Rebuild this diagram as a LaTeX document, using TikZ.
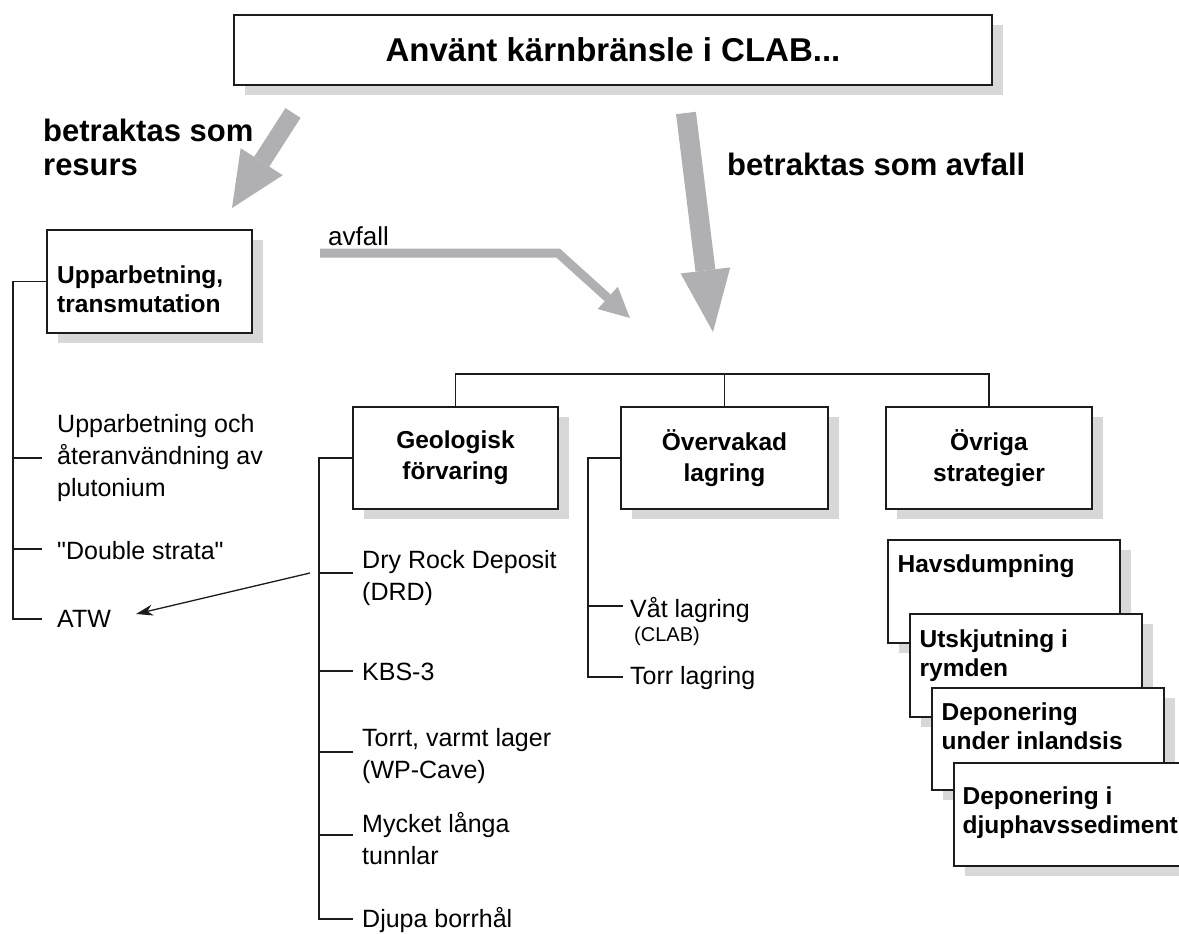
\documentclass[tikz,border=0pt]{standalone}
\usepackage{fontspec}
\setmainfont{Liberation Sans}
\usetikzlibrary{calc,shadows,arrows.meta}
\definecolor{ink}{RGB}{28,28,28}
\definecolor{arrowgray}{RGB}{176,176,179}
\definecolor{shadowgray}{RGB}{216,216,216}
\newcommand\headtri[4]{%
  \coordinate (#2-b) at ($(#2)!#4!(#1)$);
  \fill[fathead] ($(#2-b)!#3!90:(#2)$) -- (#2) -- ($(#2-b)!#3!-90:(#2)$) -- cycle;
}
\tikzset{
  box/.style={draw=ink, line width=1.2pt, fill=white, inner sep=0pt,
    drop shadow={shadow xshift=11pt, shadow yshift=-10pt, fill=shadowgray, opacity=1}},
  boxtxt/.style={font=\fontsize{24.5}{31}\selectfont\bfseries, align=center},
  stacktxt/.style={font=\fontsize{24.5}{28.5}\selectfont\bfseries, align=left, inner sep=0pt, anchor=base west},
  item/.style={font=\fontsize{25}{32}\selectfont, align=left, anchor=west, inner ysep=0pt},
  tree/.style={draw=ink, line width=1.1pt},
  biglbl/.style={font=\fontsize{31}{33}\selectfont\bfseries, align=left, inner sep=0pt, anchor=base west},
  fatshaft/.style={draw=arrowgray, line join=miter, line cap=butt},
  fathead/.style={fill=arrowgray},
}
\begin{document}
\begin{tikzpicture}[x=1pt,y=-1pt]
\useasboundingbox (0,0) rectangle (1179,934);
\clip (0,0) rectangle (1179,934);
\fill[white] (0,0) rectangle (1179,934);

% title
\node[box, minimum width=758pt, minimum height=70pt, font=\fontsize{33}{40}\selectfont\bfseries] (clab) at (613,50) {Använt kärnbränsle i CLAB...};

% labels
\node[biglbl] (resurs) at (43,175) {betraktas som\\resurs};
\node[biglbl] (avfallbig) at (727,175) {betraktas som avfall};
\node[font=\fontsize{26}{30}\selectfont, inner sep=0pt, anchor=base west] (avfallsmall) at (328,245) {avfall};

% fat gray arrows
\coordinate (ra1) at (293,113); \coordinate (ra2) at (232,208);
\coordinate (ma1) at (686,113); \coordinate (ma2) at (713,332);
\coordinate (sa1) at (320,253); \coordinate (sa2) at (558,253); \coordinate (sa3) at (630,318);
\headtri{ra1}{ra2}{25pt}{55pt}
\draw[fatshaft, line width=18pt] (ra1) -- (ra2-b);
\headtri{ma1}{ma2}{25pt}{62pt}
\draw[fatshaft, line width=20pt] (ma1) -- (ma2-b);
\headtri{sa2}{sa3}{15pt}{30pt}
\draw[fatshaft, line width=9pt] (sa1) -- (sa2) -- (sa3-b);

% left branch
\node[box, minimum width=205pt, minimum height=103pt] (upb) at (149.5,281.5) {};
\node[font=\fontsize{24.5}{29}\selectfont\bfseries, align=left, inner sep=0pt, anchor=west] (upbt) at (57,289) {Upparbetning,\\transmutation};
\coordinate (l1) at (13,458); \coordinate (l2) at (13,549); \coordinate (l3) at (13,619);
\node[item, inner xsep=15pt] (it1) at (42,458) {Upparbetning och\\återanvändning av\\plutonium};
\node[item, inner xsep=15pt] (ds) at (42,551) {\textquotedbl Double strata\textquotedbl};
\node[item, inner xsep=15pt] (atw) at (42,619) {ATW};
\draw[tree] (upb.west) -| (l3) -- (atw.west);
\draw[tree] (l1) -- (it1.west);
\draw[tree] (l2) -- (l2 -| ds.west);

% three main boxes
\node[box, minimum width=205pt, minimum height=102pt, boxtxt] (geo) at (455.5,458) {Geologisk\\förvaring};
\node[box, minimum width=207pt, minimum height=102pt, boxtxt] (ovk) at (724.5,458) {Övervakad\\lagring};
\node[box, minimum width=206pt, minimum height=102pt, boxtxt] (ovr) at (989,458) {Övriga\\strategier};
\coordinate (bar) at (724.5,374);
\draw[tree] (geo.north) |- (bar) -| (ovr.north);
\draw[tree] (bar) -- (ovk.north);

% geological items
\coordinate (g1) at (319,573); \coordinate (g2) at (319,671); \coordinate (g3) at (319,752);
\coordinate (g4) at (319,835); \coordinate (g5) at (319,919);
\node[item, inner xsep=9pt] (drd) at (353,578) {Dry Rock Deposit\\(DRD)};
\node[item, inner xsep=9pt] (kbs) at (353,672) {KBS-3};
\node[item, inner xsep=9pt] (wp) at (353,756) {Torrt, varmt lager\\(WP-Cave)};
\node[item, inner xsep=9pt] (myc) at (353,839) {Mycket långa\\tunnlar};
\node[item, inner xsep=9pt] (djupa) at (353,920) {Djupa borrhål};
\draw[tree] (geo.west) -| (g5) -- (g5 -| djupa.west);
\draw[tree] (g1) -- (g1 -| drd.west);
\draw[tree] (g2) -- (g2 -| kbs.west);
\draw[tree] (g3) -- (g3 -| wp.west);
\draw[tree] (g4) -- (g4 -| myc.west);

% monitored storage items
\coordinate (o1) at (588,606); \coordinate (o2) at (588,677);
\node[font=\fontsize{25}{32}\selectfont, align=left, anchor=base west, inner ysep=0pt, inner xsep=7pt] (vat) at (623,641) {Våt lagring\\[-8pt]{\fontsize{20}{24}\selectfont\hspace{4pt}(CLAB)}};
\node[item, inner xsep=7pt] (torr) at (623,678) {Torr lagring};
\draw[tree] (ovk.west) -| (o2) -- (o2 -| torr.west);
\draw[tree] (o1) -- (o1 -| vat.west);

% arrow DRD -> ATW
\draw[ink, line width=1.3pt, -{Stealth[length=17pt,width=11pt]}] ([xshift=-9pt]g1) -- ([xshift=10pt,yshift=5pt]atw.east);

% stacked boxes
\node[box, minimum width=232pt, minimum height=103pt] (st1) at (1004,591.5) {};
\node[stacktxt] (st1t) at ([xshift=10pt,yshift=-33pt]st1.north west) {Havsdumpning};
\node[box, minimum width=232pt, minimum height=103pt] (st2) at (1026,665.5) {};
\node[stacktxt] (st2t) at ([xshift=10pt,yshift=-63pt]st2.north west) {Utskjutning i\\rymden};
\node[box, minimum width=232pt, minimum height=102pt] (st3) at (1048,739) {};
\node[stacktxt] (st3t) at ([xshift=10pt,yshift=-62pt]st3.north west) {Deponering\\under inlandsis};
\node[box, minimum width=232pt, minimum height=103pt] (st4) at (1070,814.5) {};
\node[stacktxt] (st4t) at ([xshift=9pt,yshift=-71pt]st4.north west) {Deponering i\\djuphavssediment};
\end{tikzpicture}
\end{document}
